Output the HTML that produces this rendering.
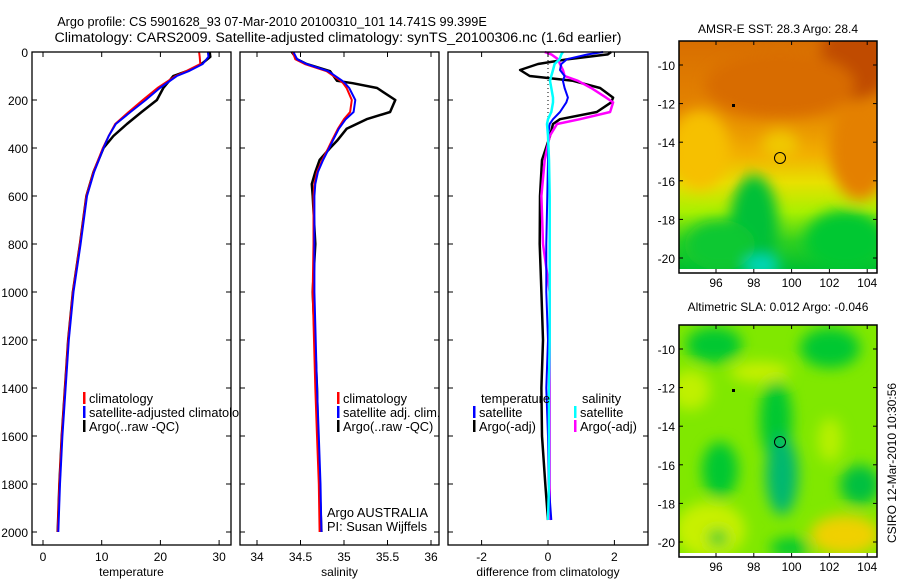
<!DOCTYPE html>
<html><head><meta charset="utf-8">
<style>
html,body{margin:0;padding:0;background:#fff;}
svg{display:block;font-family:"Liberation Sans",sans-serif;}
</style></head>
<body>
<svg id="fig" width="900" height="580" viewBox="0 0 900 580" xmlns="http://www.w3.org/2000/svg">
<defs>
<clipPath id="c1"><rect x="679" y="41" width="198" height="228"/></clipPath>
<clipPath id="c2"><rect x="679" y="325" width="198" height="228"/></clipPath>
<filter id="bl" x="-50%" y="-50%" width="200%" height="200%"><feGaussianBlur stdDeviation="7"/></filter>
<linearGradient id="g1" x1="0" y1="0" x2="0" y2="1">
<stop offset="0" stop-color="#d86e00"/><stop offset="0.3" stop-color="#e48400"/>
<stop offset="0.5" stop-color="#f2b000"/><stop offset="0.62" stop-color="#e8e000"/>
<stop offset="0.75" stop-color="#a8f000"/><stop offset="0.88" stop-color="#30d020"/>
<stop offset="1" stop-color="#00c030"/></linearGradient>
</defs>
<text x="272" y="26" font-size="12.7" text-anchor="middle">Argo profile: CS 5901628_93 07-Mar-2010 20100310_101 14.741S 99.399E</text>
<text x="338" y="42" font-size="14.2" text-anchor="middle">Climatology: CARS2009. Satellite-adjusted climatology: synTS_20100306.nc (1.6d earlier)</text>
<g id="panels"></g>
<g id="maps">
<text x="778" y="33" font-size="12" text-anchor="middle">AMSR-E SST: 28.3 Argo: 28.4</text>
<g clip-path="url(#c1)">
<rect x="679" y="41" width="198" height="228" fill="url(#g1)"/>
<g filter="url(#bl)">
<ellipse cx="855" cy="60" rx="35" ry="40" fill="#c04c00"/>
<ellipse cx="780" cy="85" rx="75" ry="32" fill="#d86c00"/>
<ellipse cx="700" cy="150" rx="30" ry="40" fill="#f6c000"/>
<ellipse cx="780" cy="145" rx="18" ry="14" fill="#f0c800"/>
<ellipse cx="860" cy="150" rx="30" ry="50" fill="#e48000"/>
<ellipse cx="754" cy="225" rx="24" ry="50" fill="#00c038"/>
<ellipse cx="845" cy="240" rx="40" ry="30" fill="#00c830"/>
<ellipse cx="720" cy="245" rx="35" ry="25" fill="#10c830"/>
<ellipse cx="762" cy="266" rx="18" ry="10" fill="#00d8c0"/>
</g>
</g>
<rect x="679" y="41" width="198" height="232" fill="none" stroke="#000" stroke-width="1.5"/>
<circle cx="780" cy="158" r="5.5" fill="none" stroke="#000"/>
<rect x="732" y="104" width="3" height="3" fill="#000"/>
<text x="778" y="311" font-size="12" text-anchor="middle">Altimetric SLA: 0.012 Argo: -0.046</text>
<g clip-path="url(#c2)">
<rect x="679" y="325" width="198" height="228" fill="#80e800"/>
<g filter="url(#bl)">
<ellipse cx="714" cy="345" rx="28" ry="18" fill="#00c830"/>
<ellipse cx="830" cy="348" rx="30" ry="20" fill="#00c830"/>
<ellipse cx="760" cy="372" rx="30" ry="10" fill="#c8f000"/>
<ellipse cx="690" cy="390" rx="20" ry="20" fill="#c0f000"/>
<ellipse cx="776" cy="420" rx="16" ry="40" fill="#00c830"/>
<ellipse cx="720" cy="470" rx="18" ry="28" fill="#00c830"/>
<ellipse cx="782" cy="475" rx="16" ry="40" fill="#00b870"/>
<ellipse cx="830" cy="440" rx="12" ry="22" fill="#b8f000"/>
<ellipse cx="860" cy="485" rx="20" ry="20" fill="#00c040"/>
<ellipse cx="845" cy="535" rx="35" ry="20" fill="#f0d000"/>
<ellipse cx="710" cy="530" rx="35" ry="28" fill="#c8f000"/>
<ellipse cx="718" cy="538" rx="10" ry="8" fill="#00c830"/>
<ellipse cx="790" cy="548" rx="20" ry="10" fill="#00c830"/>
</g>
</g>
<rect x="679" y="325" width="198" height="232" fill="none" stroke="#000" stroke-width="1.5"/>
<circle cx="780" cy="442" r="5.5" fill="none" stroke="#000"/>
<rect x="732" y="389" width="3" height="3" fill="#000"/>
<text transform="translate(896,463) rotate(-90)" font-size="12" text-anchor="middle">CSIRO 12-Mar-2010 10:30:56</text>
</g>
</svg>
<script>
// ---- data ----
const tDepth = [0,20,50,80,100,150,200,250,300,350,400,500,600,800,1000,1200,1400,1600,1800,2000];
const tArgo  = [28.4,28.5,27.0,24.5,22.2,20.5,19.4,16.8,14.3,12.0,10.3,8.6,7.4,6.3,5.1,4.3,3.75,3.2,2.8,2.5];
const tClim  = [26.6,26.7,26.8,24.4,22.6,19.5,17.0,14.6,12.3,11.2,10.2,8.6,7.4,6.3,5.1,4.3,3.75,3.2,2.8,2.5];
const tSat   = [28.1,28.2,27.2,24.8,22.8,19.9,17.5,14.9,12.4,11.2,10.3,8.7,7.5,6.4,5.2,4.4,3.85,3.3,2.9,2.6];
const sDepth = [0,30,50,80,120,130,150,200,250,280,320,370,400,450,500,550,600,800,1000,1400,1600,1800,2000];
const sArgo  = [34.40,34.46,34.57,34.84,34.92,35.10,35.38,35.59,35.53,35.26,35.03,34.92,34.84,34.72,34.67,34.63,34.64,34.67,34.64,34.69,34.70,34.72,34.74];
const sClim  = [34.41,34.44,34.55,34.80,34.96,34.99,35.03,35.09,35.07,35.00,34.93,34.86,34.82,34.75,34.69,34.66,34.65,34.65,34.64,34.67,34.69,34.71,34.72];
const sSat   = [34.42,34.46,34.57,34.82,34.98,35.01,35.06,35.13,35.11,35.02,34.94,34.87,34.83,34.76,34.70,34.67,34.66,34.66,34.66,34.69,34.71,34.73,34.74];
const dDepth = [0,10,30,50,75,100,120,150,190,210,250,280,300,350,450,600,800,1000,1200,1400,1600,1800,1950];
const dTArgo = [1.9,1.8,0.6,-0.3,-0.84,-0.55,0.75,1.57,1.96,1.9,1.47,0.36,0.15,0.06,-0.18,-0.24,-0.25,-0.2,-0.15,-0.2,-0.18,-0.08,0.0];
const dTSat  = [1.66,1.2,0.57,0.4,0.36,0.5,0.45,0.5,0.6,0.55,0.36,0.15,0.05,0.0,0.0,-0.02,-0.05,-0.05,0.0,-0.05,0.0,0.02,0.1];
const dSArgo = [-0.1,0.1,0.3,0.36,0.45,0.5,0.9,1.3,1.75,1.96,1.87,0.96,0.27,0.05,-0.1,-0.2,-0.15,0.05,0.05,0.05,0.05,0.05,0.05];
const dSSat  = [0.45,0.4,0.35,0.2,0.15,0.1,0.06,0.1,0.15,0.15,0.1,0.0,-0.03,0.0,0.03,0.05,0.05,0.05,0.05,0.03,0.03,0.03,0.0];
const depthTicks = [0,200,400,600,800,1000,1200,1400,1600,1800,2000];
const tTicks = [0,10,20,30];
const sTicks = [34,34.5,35,35.5,36];
const dTicks = [-2,0,2];

const NS='http://www.w3.org/2000/svg';
const root=document.getElementById('panels');
function el(tag,attrs,parent){const e=document.createElementNS(NS,tag);for(const k in attrs)e.setAttribute(k,attrs[k]);(parent||root).appendChild(e);return e;}
const yD = d => 52 + 0.24*d;
const xT = v => 43 + 5.87*v;
const xS = v => 257 + 87*(v-34);
const xDf = v => 548 + 33.2*v;

function frame(x0,x1,name){
  const g=el('g',{});
  
  
  el('rect',{x:x0,y:52,width:x1-x0,height:493,fill:'#fff'},g);
  return g;
}
function series(g,depth,vals,xf,color,name,w){
  let d='';
  depth.forEach((dp,i)=>{d+=(i?'L':'M')+xf(vals[i]).toFixed(1)+' '+yD(dp).toFixed(1);});
  const p=el('path',{d:d,fill:'none',stroke:color,'stroke-width':w||2,'stroke-linejoin':'round'},g);
  
  
}
function axes(g,x0,x1,ticks,xf,xlabel,name,showY){
  el('rect',{x:x0,y:52,width:x1-x0,height:493,fill:'none',stroke:'#000','stroke-width':1.3},g);
  depthTicks.forEach(d=>{
    el('line',{x1:x0,x2:x0+5,y1:yD(d),y2:yD(d),stroke:'#000'},g);
    el('line',{x1:x1-5,x2:x1,y1:yD(d),y2:yD(d),stroke:'#000'},g);
    if(showY){const t=el('text',{x:x0-4,y:yD(d)+5,'font-size':12,'text-anchor':'end'},g);t.textContent=d;
      
      }
  });
  ticks.forEach(v=>{
    el('line',{x1:xf(v),x2:xf(v),y1:545,y2:540,stroke:'#000'},g);
    el('line',{x1:xf(v),x2:xf(v),y1:52,y2:57,stroke:'#000'},g);
    const t=el('text',{x:xf(v),y:561,'font-size':12,'text-anchor':'middle'},g);t.textContent=v;
    
    
  });
  const l=el('text',{x:(x0+x1)/2,y:576,'font-size':12,'text-anchor':'middle'},g);l.textContent=xlabel;
  
  
}
function leg(g,x,y,color,text){
  el('rect',{x:x,y:y-11,width:2.5,height:12,fill:color},g);
  const t=el('text',{x:x+6,y:y,'font-size':12.8},g);t.textContent=text;
  
  
}
// Panel 1
let g=frame(32,231,'temperature-panel');
leg(g,83,403,'#f00','climatology');
leg(g,83,417,'#00f','satellite-adjusted climatology');
leg(g,83,431,'#000','Argo(..raw -QC)');
series(g,tDepth,tArgo,xT,'#000','temp-argo-line',2.5);
series(g,tDepth,tClim,xT,'#f00','temp-clim-line');
series(g,tDepth,tSat,xT,'#00f','temp-satellite-line');
axes(g,32,231,tTicks,xT,'temperature','x-axis-title-temperature',true);
// Panel 2
g=frame(240,439,'salinity-panel');
series(g,sDepth,sArgo,xS,'#000','sal-argo-line',2.5);
series(g,sDepth,sClim,xS,'#f00','sal-clim-line');
series(g,sDepth,sSat,xS,'#00f','sal-satellite-line');
leg(g,337,403,'#f00','climatology');
leg(g,337,417,'#00f','satellite adj. clim.');
leg(g,337,431,'#000','Argo(..raw -QC)');
let t=el('text',{x:327,y:517,'font-size':12.8},g);t.textContent='Argo AUSTRALIA';


t=el('text',{x:327,y:531,'font-size':12.8},g);t.textContent='PI: Susan Wijffels';


axes(g,240,439,sTicks,xS,'salinity','x-axis-title-salinity',false);
// Panel 3
g=frame(448,648,'difference-panel');
el('line',{x1:xDf(0),x2:xDf(0),y1:52,y2:yD(300),stroke:'#000','stroke-dasharray':'1 3'},g);
series(g,dDepth,dTArgo,xDf,'#000','diff-temp-argo-line',2.5);
series(g,dDepth,dSArgo,xDf,'#f0f','diff-sal-argo-line',2.5);
series(g,dDepth,dTSat,xDf,'#00f','diff-temp-satellite-line');
series(g,dDepth,dSSat,xDf,'#0ff','diff-sal-satellite-line',2.5);
t=el('text',{x:481,y:403,'font-size':12.8},g);t.textContent='temperature';


t=el('text',{x:582,y:403,'font-size':12.8},g);t.textContent='salinity';


leg(g,473,417,'#00f','satellite');
leg(g,473,431,'#000','Argo(-adj)');
leg(g,574,417,'#0ff','satellite');
leg(g,574,431,'#f0f','Argo(-adj)');
axes(g,448,648,dTicks,xDf,'difference from climatology','x-axis-title-difference',false);

// map ticks
const lonTicks=[96,98,100,102,104];
const latTicks=[-10,-12,-14,-16,-18,-20];
const mg=document.getElementById('maps');
[[65,273],[349,557]].forEach(([y10,bot],k)=>{
  const top = k?325:41;
  lonTicks.forEach(lo=>{
    const x=716+(lo-96)*18.9;
    el('line',{x1:x,x2:x,y1:bot,y2:bot-4,stroke:'#000'},mg);
    el('line',{x1:x,x2:x,y1:top,y2:top+4,stroke:'#000'},mg);
    const tx=el('text',{x:x,y:bot+14,'font-size':12,'text-anchor':'middle'},mg);tx.textContent=lo;
    
    
  });
  latTicks.forEach(la=>{
    const y=y10+(-10-la)*19.3;
    el('line',{x1:877,x2:873,y1:y,y2:y,stroke:'#000'},mg);
    el('line',{x1:679,x2:683,y1:y,y2:y,stroke:'#000'},mg);
    const tx=el('text',{x:675,y:y+5,'font-size':12,'text-anchor':'end'},mg);tx.textContent=la;
    
    
  });
});
</script>
</body></html>
